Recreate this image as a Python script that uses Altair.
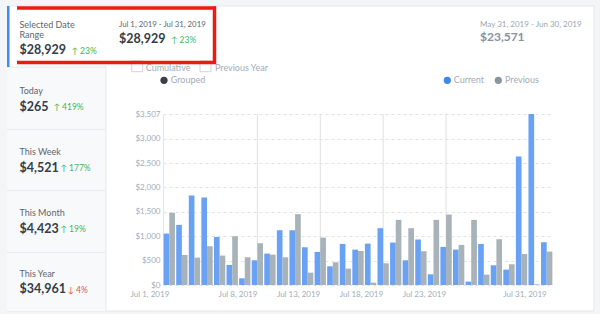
import altair as alt
import pandas as pd

# ---------------- data ----------------
days = list(range(1, 32))
current = [1055, 1233, 1836, 1795, 986, 411, 137, 507, 644, 1123, 1123, 774, 678, 384, 842,
           726, 849, 1165, 870, 507, 932, 219, 781, 726, 69, 842, 404, 315, 2637, 3507, 877]
previous = [1480, 616, 562, 795, 603, 1000, 569, 856, 623, 569, 1452, 253, 973, 466, 336,
            699, 48, 445, 1336, 1165, 692, 1336, 1445, 822, 1336, 212, 938, 425, 637, 14, 685]
series_names = ["Current", "Previous"]
tick_days = [1, 8, 13, 18, 23, 31]
grid_days = [8, 13, 18, 23]
y_ticks = [0, 500, 1000, 1500, 2000, 2500, 3000, 3507]

periods = ["Today", "This Week", "This Month", "This Year"]
period_totals = ["$265", "$4,521", "$4,423", "$34,961"]
period_changes = ["419%", "177%", "19%", "4%"]
period_up = [True, True, True, False]

selected_label = ["Selected Date", "Range"]
selected_total = "$28,929"
selected_change = "23%"
current_range = "Jul 1, 2019 - Jul 31, 2019"
previous_range = "May 31, 2019 - Jun 30, 2019"
previous_total = "$23,571"

# ---------------- layout ----------------
OX, OY = 163, 114
W, H = 390, 171
FONT = "Lato"
BLUE_BAR = "#69a1f5"
GRAY_BAR = "#a8b2b9"
GREEN = "#45b554"
RED = "#e35252"
LABEL = "#5c6670"
VALUE = "#343d48"
MUTED = "#a2acb6"

one = pd.DataFrame({"k": [0]})


def px(x):
    return alt.value(x - OX)


def py(y):
    return alt.value(y - OY)


def rect(x1, y1, x2, y2, fill, stroke=None, sw=1.0, fo=1.0):
    kw = dict(fill=fill, fillOpacity=fo)
    if stroke:
        kw.update(stroke=stroke, strokeWidth=sw)
    return alt.Chart(one).mark_rect(**kw).encode(x=px(x1), x2=px(x2), y=py(y1), y2=py(y2))


def hline(x1, x2, y, color, sw=1.0):
    return alt.Chart(one).mark_rule(color=color, strokeWidth=sw).encode(x=px(x1), x2=px(x2), y=py(y))


def vline(x, y1, y2, color, sw=1.0):
    return alt.Chart(one).mark_rule(color=color, strokeWidth=sw).encode(x=px(x), y=py(y1), y2=py(y2))


def text(s, x, y, size, color, weight="normal"):
    return alt.Chart(one).mark_text(
        text=s, align="left", baseline="alphabetic", fontSize=size, color=color,
        fontWeight=weight, font=FONT
    ).encode(x=px(x), y=py(y))


def dot(x, y, color, size=52):
    return alt.Chart(one).mark_point(filled=True, shape="circle", size=size, color=color, opacity=1).encode(
        x=px(x), y=py(y))


layers = []
BG = "#f4f5f7"
# outer gray strips
layers += [rect(0, 0, 600, 6, BG), rect(0, 311, 600, 314, BG), rect(594, 0, 600, 314, BG), rect(0, 0, 7, 314, BG)]
# card borders
layers += [hline(7, 594, 6, "#e4e7ea"), hline(7, 594, 311, "#e4e7ea"), vline(594, 6, 311, "#e4e7ea")]
# left panel
layers += [rect(7, 67, 106, 311, "#f8f9fb"), hline(7, 106, 67, "#e6e8eb"), vline(106, 67, 311, "#e6e8eb")]
for yy in [129.5, 190.5, 252.5]:
    layers.append(hline(7, 106, yy, "#e8eaed"))
layers.append(rect(7, 6, 9.5, 67, "#3f8cf3"))

# vertical gridlines on the chart
grid_df = pd.DataFrame({"day": grid_days})
layers.append(alt.Chart(grid_df).mark_rule(color="#dde1e5", strokeWidth=1).encode(
    x=alt.X("day:O"), y=alt.value(0), y2=alt.value(H)))

# bars
bar_df = pd.DataFrame({
    "day": days * 2,
    "series": ["Current"] * len(days) + ["Previous"] * len(days),
    "value": current + previous,
})
bars = alt.Chart(bar_df).mark_bar(opacity=1).encode(
    x=alt.X("day:O",
            scale=alt.Scale(domain=days, paddingInner=0.1, paddingOuter=0.05),
            axis=alt.Axis(values=tick_days, labelExpr="'Jul ' + datum.value + ', 2019'",
                          labelAngle=0, labelAlign="right", labelBaseline="top", ticks=False,
                          domain=False, grid=False, title=None, labelFont=FONT, labelFontSize=8,
                          labelColor="#a3adb7", labelPadding=5)),
    xOffset=alt.XOffset("series:N", sort=series_names, scale=alt.Scale(domain=series_names)),
    y=alt.Y("value:Q", scale=alt.Scale(domain=[0, 3507], nice=False),
            axis=alt.Axis(values=y_ticks, format="$,d", title=None, ticks=False, domain=True,
                          domainColor="#e3e6ea", grid=True, gridDash=[3, 3], gridColor="#dfe3e7",
                          labelFont=FONT, labelFontSize=8, labelColor="#a3adb7", labelPadding=3)),
    color=alt.Color("series:N", scale=alt.Scale(domain=series_names, range=[BLUE_BAR, GRAY_BAR]),
                    legend=None),
)
layers.append(bars)

VAL_SIZE = 12.5
# header texts
layers += [
    text(selected_label[0], 19.5, 27.5, 9, LABEL),
    text(selected_label[1], 19.5, 38.3, 9, LABEL),
    text(selected_total, 19.5, 54.3, VAL_SIZE, VALUE, "bold"),
    text("↑ " + selected_change, 71.5, 54, 8.5, GREEN),
    text(current_range, 119, 27.3, 7.8, LABEL),
    text(selected_total, 119, 43.3, VAL_SIZE, VALUE, "bold"),
    text("↑ " + selected_change, 171, 43, 8.5, GREEN),
    text(previous_range, 480, 26.7, 8, "#9ba6b1"),
    text(previous_total, 480, 40.7, 12, "#8692a0", "bold"),
]
# options row
layers += [
    rect(131.7, 61, 142.7, 71.7, "white", "#cfd5db", 1),
    rect(200, 61, 211, 71.7, "white", "#cfd5db", 1),
    text("Cumulative", 145.7, 70.7, 9, MUTED),
    text("Previous Year", 215, 70.7, 9, MUTED),
    dot(164, 80.3, "#3b4046"),
    text("Grouped", 170.7, 83.3, 9, MUTED),
    dot(447.3, 80.3, "#3d86f5"),
    text(series_names[0], 453.7, 83.3, 9, MUTED),
    dot(498.3, 80.3, "#8896a1"),
    text(series_names[1], 505, 83.3, 9, MUTED),
]
# left panel items
label_y = [94.3, 155, 216, 276.7]
change_x = [53.5, 60.5, 60.5, 67.5]
for i, name in enumerate(periods):
    layers.append(text(name, 19.5, label_y[i], 9, LABEL))
    layers.append(text(period_totals[i], 19.5, label_y[i] + 16.5, VAL_SIZE, VALUE, "bold"))
    arrow = "↑ " if period_up[i] else "↓ "
    layers.append(text(arrow + period_changes[i], change_x[i], label_y[i] + 16, 8.5,
                       GREEN if period_up[i] else RED))

# red annotation (hand-drawn marker: top, right and bottom strokes)
RED_MARK = "#ec1b12"
layers += [
    hline(17, 216, 8, RED_MARK, 3.5),
    hline(17, 216, 62.5, RED_MARK, 3.5),
    vline(214.5, 6.5, 64, RED_MARK, 3.5),
]

chart = alt.layer(*layers).properties(
    width=W, height=H,
    padding={"left": OX, "top": OY, "right": 600 - OX - W, "bottom": 314 - OY - H},
    autosize=alt.AutoSizeParams(type="none"),
    background="white",
).configure_view(stroke=None)

chart.save("out.html", embed_options={"renderer": "svg", "actions": False})
